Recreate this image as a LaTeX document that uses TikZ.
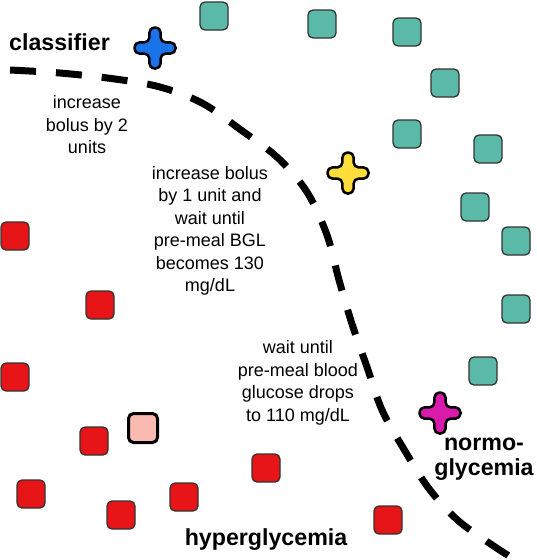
\documentclass[tikz,border=0pt]{standalone}
\usepackage{fontspec}
\setmainfont{Liberation Sans}
\definecolor{tealsq}{RGB}{91,186,167}
\definecolor{redsq}{RGB}{232,21,24}
\definecolor{pinksq}{RGB}{251,186,176}
\definecolor{blueplus}{RGB}{26,115,232}
\definecolor{yellowplus}{RGB}{253,222,58}
\definecolor{magentaplus}{RGB}{216,27,170}
\tikzset{
  sqbase/.style={draw=black!80, line width=1.3pt, rounded corners=5pt, minimum size=28pt, inner sep=0pt},
  tealbox/.style={sqbase, fill=tealsq},
  redbox/.style={sqbase, fill=redsq},
  pinkbox/.style={sqbase, fill=pinksq, draw=black, line width=3pt, minimum size=29pt},
  plainlbl/.style={align=center, font=\fontsize{18}{22.5}\selectfont, inner sep=0pt},
  boldlbl/.style={align=center, font=\fontsize{23.2}{24.5}\selectfont\bfseries, inner sep=0pt},
  boundary/.style={line width=7pt, dash pattern=on 26pt off 20pt},
  pics/plusmark/.style={code={
    \draw[draw=black, line width=2.5pt, fill=#1, rounded corners=5pt]
      (5.6,20.5) -- (5.6,5.6) -- (20.5,5.6) -- (20.5,-5.6) -- (5.6,-5.6) -- (5.6,-20.5)
      -- (-5.6,-20.5) -- (-5.6,-5.6) -- (-20.5,-5.6) -- (-20.5,5.6) -- (-5.6,5.6) -- (-5.6,20.5) -- cycle;
  }}
}
\begin{document}
\begin{tikzpicture}[x=1pt,y=-1pt]
\useasboundingbox (0,0) rectangle (536,560);
% teal squares
\node[tealbox] (t1) at (214,16) {};
\node[tealbox] (t2) at (322,24) {};
\node[tealbox] (t3) at (407,32) {};
\node[tealbox] (t4) at (445,83) {};
\node[tealbox] (t5) at (407,134) {};
\node[tealbox] (t6) at (488,149) {};
\node[tealbox] (t7) at (475,207) {};
\node[tealbox] (t8) at (516,241) {};
\node[tealbox] (t9) at (516,309) {};
\node[tealbox] (t10) at (483,371) {};
% red squares
\node[redbox] (r1) at (15,236) {};
\node[redbox] (r2) at (100,305) {};
\node[redbox] (r3) at (15,377) {};
\node[redbox] (r4) at (94,441) {};
\node[redbox] (r5) at (31,494) {};
\node[redbox] (r6) at (121,515) {};
\node[redbox] (r7) at (184,497) {};
\node[redbox] (r8) at (266,468) {};
\node[redbox] (r9) at (388,520) {};
\node[pinkbox] (p1) at (143,428) {};
% boundary
\draw[boundary] plot[smooth, tension=0.55] coordinates {
  (10,70) (60,73) (115,79) (160,87) (202,103) (241,130) (278,158) (307,192)
  (327,235) (339,280) (352,324) (367,367) (382,410) (405,451) (430,490) (461,523) (512,558)};
% crosses
\pic (bluecross) at (155,48) {plusmark=blueplus};
\pic (yellowcross) at (348,173) {plusmark=yellowplus};
\pic (magentacross) at (440,413) {plusmark=magentaplus};
% labels
\node[boldlbl, anchor=base west] (cls) at (9,50) {classifier};
\node[plainlbl] (txt1) at (87,125) {increase\\bolus by 2\\units};
\node[plainlbl] (txt2) at (210,231) {increase bolus\\by 1 unit and\\wait until\\pre-meal BGL\\becomes 130\\mg/dL};
\node[plainlbl] (txt3) at (298,383) {wait until\\pre-meal blood\\glucose drops\\to 110 mg/dL};
\node[boldlbl] (normo) at (484,459) {normo-\\glycemia};
\node[boldlbl, anchor=base] (hyper) at (266,545) {hyperglycemia};
\end{tikzpicture}
\end{document}
